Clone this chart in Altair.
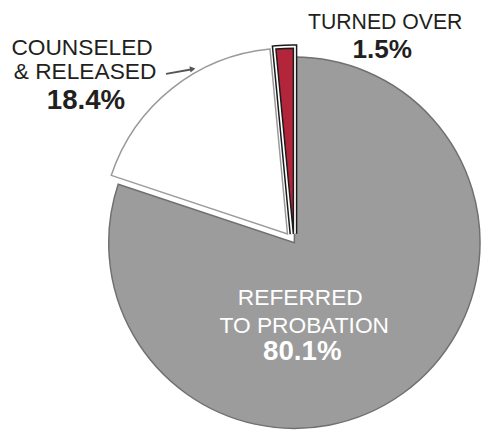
import altair as alt
import pandas as pd
import math

categories = ["REFERRED TO PROBATION", "COUNSELED & RELEASED", "TURNED OVER"]
values = [80.1, 18.4, 1.5]
order = [0, 1, 2]

df = pd.DataFrame({"category": categories, "value": values, "order": order})

CX, CY, R = 290, 235, 188
FONT = "Liberation Sans"

base = alt.Chart(df).transform_window(
    cum="sum(value)", sort=[alt.SortField("order")]
).transform_calculate(
    start="datum.cum - datum.value"
)

theta_scale = alt.Scale(domain=[0, 100], range=[0, 2 * math.pi])

def slice_layer(cat, fill, stroke, sw, dx=0, dy=0):
    return base.transform_filter(alt.datum.category == cat).mark_arc(
        radius=R, fill=fill, stroke=stroke, strokeWidth=sw,
        xOffset=dx, yOffset=dy, strokeJoin="miter"
    ).encode(
        theta=alt.Theta("start:Q", scale=theta_scale),
        theta2="cum:Q",
        x=alt.value(CX), y=alt.value(CY),
    )

gray = slice_layer(categories[0], "#9c9c9c", "#707070", 1.5)
white = slice_layer(categories[1], "#ffffff", "#9a9a9a", 1.5, -7, -9)
red_halo1 = slice_layer(categories[2], "#1a1a1a", "#1a1a1a", 8, -1, -9)
red_halo2 = slice_layer(categories[2], "#ffffff", "#ffffff", 5, -1, -9)
red = slice_layer(categories[2], "#b2253a", "#1a1a1a", 1.5, -1, -9)

def txt(text, x, y, size=23, bold=False, color="#231f20"):
    return alt.Chart(df).transform_filter(alt.datum.order == 0).mark_text(
        text=text, font=FONT, fontSize=size,
        fontWeight="bold" if bold else "normal", color=color,
        align="center", baseline="alphabetic",
    ).encode(x=alt.value(x - 8), y=alt.value(y - 8))

labels = [
    txt("TURNED OVER", 390, 27, 21.5),
    txt("1.5%", 387, 56, 26.5, True),
    txt("COUNSELED", 83, 53),
    txt("& RELEASED", 86, 77),
    txt("18.4%", 87, 108, 28, True),
    txt("REFERRED", 304, 306, color="#ffffff"),
    txt("TO PROBATION", 308, 334, color="#ffffff"),
    txt("80.1%", 306, 362, 28, True, color="#ffffff"),
]

leader = alt.Chart(df).transform_filter(alt.datum.order == 0).mark_rule(
    color="#555555", strokeWidth=2
).encode(x=alt.value(168 - 8), x2=alt.value(196 - 8),
         y=alt.value(72 - 8), y2=alt.value(67 - 8))

arrow = alt.Chart(df).transform_filter(alt.datum.order == 0).mark_point(
    shape="triangle-right", filled=True, color="#555555", size=40, angle=350, opacity=1
).encode(x=alt.value(195 - 8), y=alt.value(67 - 8))

chart = alt.layer(gray, white, red_halo1, red_halo2, red, leader, arrow, *labels).properties(
    width=480, height=425, padding=0, autosize=alt.AutoSizeParams(type="none")
).configure_view(stroke=None)

chart.save("out.html", embed_options={"renderer": "svg", "actions": False})
